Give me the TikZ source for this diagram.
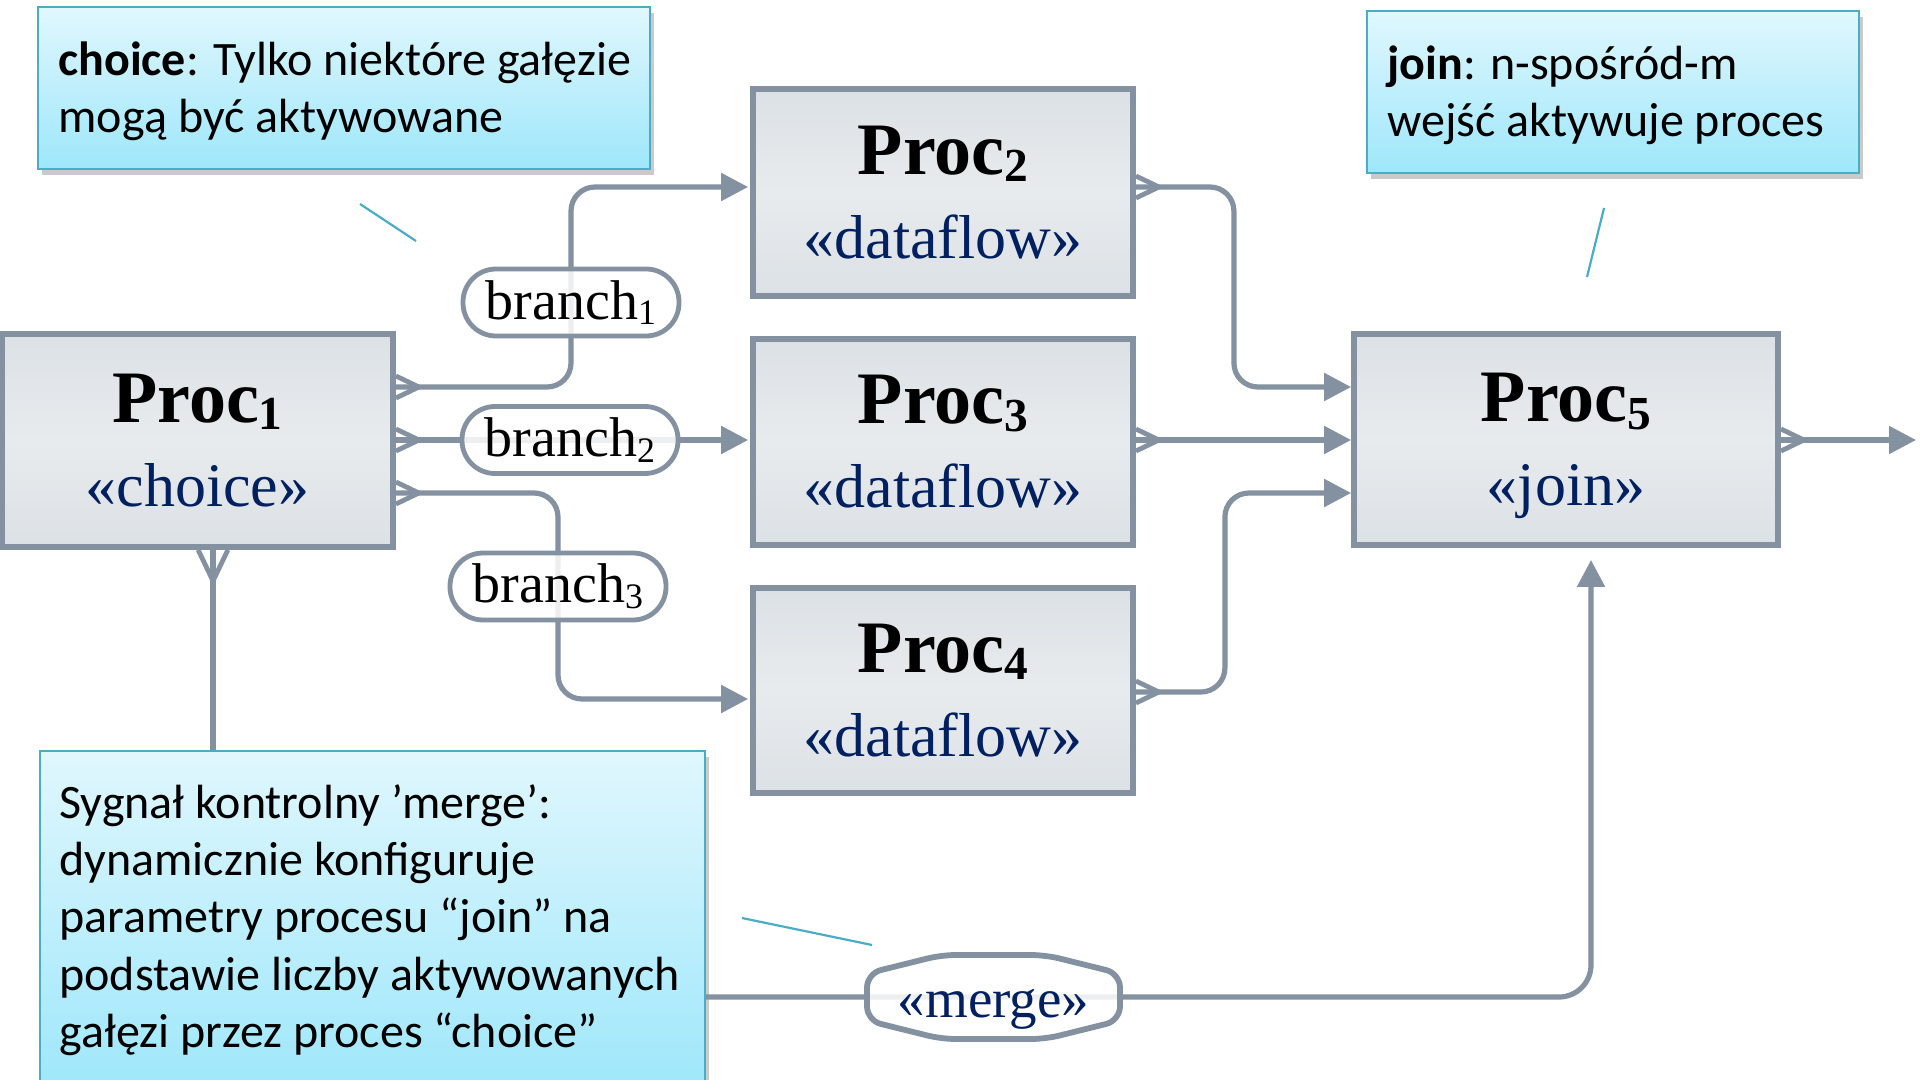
\documentclass[tikz,border=0pt]{standalone}
\usepackage{fontspec}
\setmainfont{Liberation Serif}
\newfontfamily\calloutfont{Carlito}
\usetikzlibrary{arrows.meta,calc,shadows}

\definecolor{linegray}{HTML}{8391A0}
\definecolor{boxedge}{HTML}{DCE1E5}
\definecolor{boxmid}{HTML}{E8EBEE}
\definecolor{navy}{HTML}{002060}
\definecolor{calltop}{HTML}{E0F7FD}
\definecolor{callbot}{HTML}{9EE7FB}
\definecolor{callline}{HTML}{4BACC6}

% lowered, reduced index digit
\newcommand{\ix}[1]{\raisebox{-0.1em}{\scalebox{0.64}{#1}}}

\tikzset{
  proc/.style={draw=linegray, line width=2.9pt, top color=boxedge, bottom color=boxedge,
    middle color=boxmid, align=center, inner sep=0pt, font=\fontsize{31}{42}\selectfont},
  pipe/.style={draw=linegray, line width=2.6pt, rounded corners=12pt},
  arr/.style={-{Triangle[length=13.5pt,width=13.5pt]}},
  tag/.style={draw=linegray, line width=2.4pt, fill=white, fill opacity=0.85, text opacity=1,
    rounded corners=16.5pt, minimum width=108pt, minimum height=33.5pt, inner sep=0pt,
    font=\fontsize{28}{30}\selectfont},
  mergeoct/.style={draw=linegray, line width=2.9pt, fill=white, fill opacity=0.85, rounded corners=7pt},
  callout/.style={draw=callline, line width=1pt, top color=calltop, bottom color=callbot,
    drop shadow={shadow xshift=2pt, shadow yshift=-3pt, opacity=0.35, fill=black!60}, inner sep=0pt},
  ctext/.style={font=\calloutfont\fontsize{24}{28.7}\selectfont, align=left, anchor=west, inner sep=0pt},
  pointer/.style={draw=callline, line width=1.1pt},
  outport/.pic={\draw[draw=linegray, line width=2.4pt] (0,-11) -- (23,0) -- (0,11);},
}

\begin{document}
\begin{tikzpicture}[x=0.5pt,y=-0.5pt]
\useasboundingbox (0,0) rectangle (1920,1080);

% callouts
\node[callout, minimum width=306pt, minimum height=81pt] (c1) at (344,88) {};
\node[ctext] (c1t) at (58,91) {\textbf{choice}: Tylko niektóre gałęzie\\mogą być aktywowane};
\node[callout, minimum width=246pt, minimum height=81pt] (c5) at (1613,92) {};
\node[ctext] (c5t) at (1387,95) {\textbf{join}: n-spośród-m\\wejść aktywuje proces};
\node[callout, minimum width=332.5pt, minimum height=169.5pt] (mc) at (372.5,920.5) {};
\node[ctext] (mct) at (59,920) {Sygnał kontrolny ’merge’:\\dynamicznie konfiguruje\\parametry procesu “join” na\\podstawie liczby aktywowanych\\gałęzi przez proces “choice”};

% detached callout pointers
\coordinate (c1a) at (360,204);  \coordinate (c1b) at (416,241);
\coordinate (c5a) at (1604,208); \coordinate (c5b) at (1587,277);
\coordinate (mca) at (742,918);  \coordinate (mcb) at (872,945);
\draw[pointer] (c1a) -- (c1b);
\draw[pointer] (c5a) -- (c5b);
\draw[pointer] (mca) -- (mcb);

% processes
\node[proc, minimum width=195.5pt, minimum height=106.5pt] (p1) at (197.5,440.5)
  {{\fontsize{37}{42}\selectfont\bfseries Proc\ix{1}}\\{\color{navy}«choice»}};
\node[proc, minimum width=190pt, minimum height=103.5pt] (p2) at (943,192.5)
  {{\fontsize{37}{42}\selectfont\bfseries Proc\ix{2}}\\{\color{navy}«dataflow»}};
\node[proc, minimum width=190pt, minimum height=103pt] (p3) at (943,442)
  {{\fontsize{37}{42}\selectfont\bfseries Proc\ix{3}}\\{\color{navy}«dataflow»}};
\node[proc, minimum width=190pt, minimum height=102.5pt] (p4) at (943,690.5)
  {{\fontsize{37}{42}\selectfont\bfseries Proc\ix{4}}\\{\color{navy}«dataflow»}};
\node[proc, minimum width=212pt, minimum height=105.5pt] (p5) at (1566,439.5)
  {{\fontsize{37}{42}\selectfont\bfseries Proc\ix{5}}\\{\color{navy}\smash{«join»}}};

% ports
\coordinate (p1o1) at ($(p1.east)+(0,-53.5)$);
\coordinate (p1o2) at ($(p1.east)+(0,-0.5)$);
\coordinate (p1o3) at ($(p1.east)+(0,52.5)$);
\coordinate (p1s)  at ($(p1.south)+(15.5,0)$);
\coordinate (p2i)  at ($(p2.west)+(0,-5.5)$);
\coordinate (p2o)  at ($(p2.east)+(0,-5.5)$);
\coordinate (p3i)  at ($(p3.west)+(0,-2)$);
\coordinate (p3o)  at ($(p3.east)+(0,-2)$);
\coordinate (p4i)  at ($(p4.west)+(0,8.5)$);
\coordinate (p4o)  at ($(p4.east)+(0,1.5)$);
\coordinate (p5i1) at ($(p5.west)+(0,-52.5)$);
\coordinate (p5i2) at ($(p5.west)+(0,0.5)$);
\coordinate (p5i3) at ($(p5.west)+(0,53.5)$);
\coordinate (p5o)  at ($(p5.east)+(0,0.5)$);
\coordinate (p5s)  at ($(p5.south)+(25,0)$);
\coordinate (outEnd) at (1916,440);
\coordinate (mgc) at (993.5,997);

% branch labels positions
\coordinate (b1c) at (571,302.5);
\coordinate (b3c) at (558,586.5);

% flows
\draw[pipe,arr,shorten >=1pt] (p1o1) -| (b1c) |- (p2i);
\draw[pipe,arr,shorten >=1pt] (p1o2) -- (p3i);
\draw[pipe,arr,shorten >=1pt] (p1o3) -| (b3c) |- (p4i);
\draw[pipe,arr] (p2o) -- ++(98,0) |- (p5i1);
\draw[pipe,arr] (p3o) -- (p5i2);
\draw[pipe,arr] (p4o) -- ++(89,0) |- (p5i3);
\draw[pipe,arr] (p5o) -- (outEnd);

% control signal
\draw[pipe] (p1s) -- (p1s |- mc.north);
\draw[pipe,arr,rounded corners=16pt,shorten >=6pt] (mc.east |- mgc) -| (p5s);

% port forks
\pic at (p1o1) {outport};
\pic at (p1o2) {outport};
\pic at (p1o3) {outport};
\pic at (p2o) {outport};
\pic at (p3o) {outport};
\pic at (p4o) {outport};
\pic at (p5o) {outport};
\pic[rotate=-90, scale=1.35] at (p1s) {outport};

% labels
\node[tag] (b1) at (b1c) {branch\ix{1}};
\node[tag] (b2) at ($(p1o2)!0.5!(p3i)+(-3,0)$) {branch\ix{2}};
\node[tag] (b3) at (b3c) {branch\ix{3}};
\draw[mergeoct] (mgc) ++(-52,-42) -- ++(104,0) -- ++(74.5,18.5) -- ++(0,47) -- ++(-74.5,18.5)
  -- ++(-104,0) -- ++(-74.5,-18.5) -- ++(0,-47) -- cycle;
\node[inner sep=0pt, font=\fontsize{27.5}{30}\selectfont, text=navy] (mg) at ($(mgc)+(0,12)$) {«merge»};
\end{tikzpicture}
\end{document}
